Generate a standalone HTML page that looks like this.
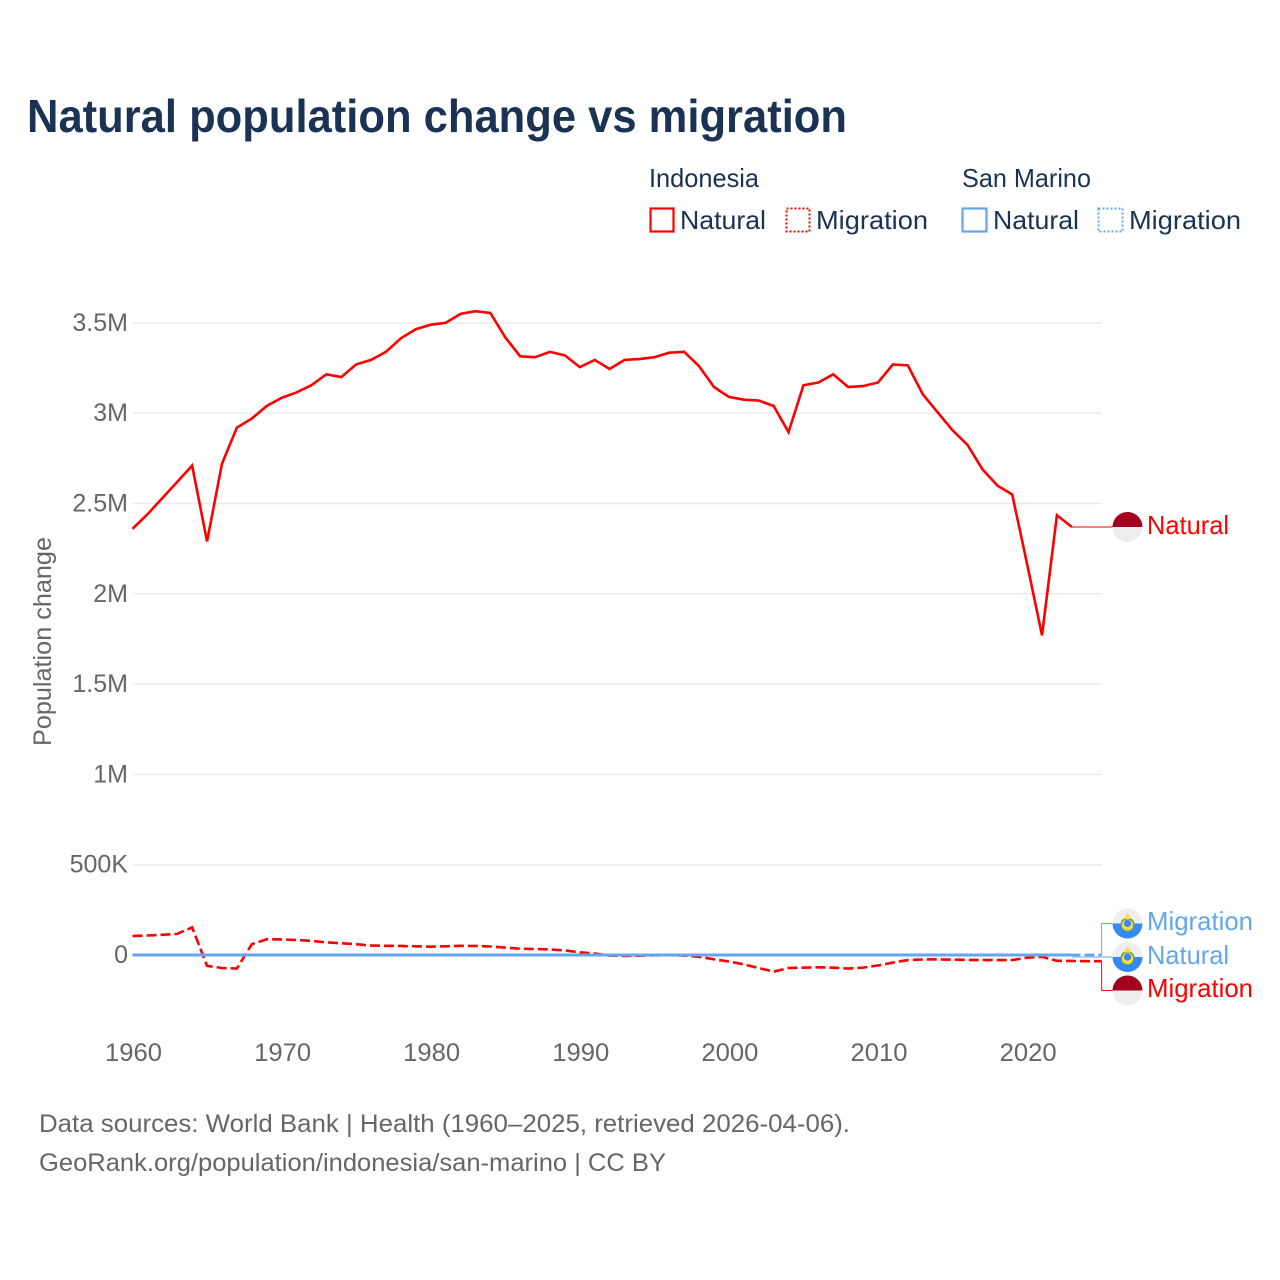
<!DOCTYPE html>
<html lang="en">
<head>
<meta charset="utf-8">
<title>Natural population change vs migration</title>
<style>
html,body{margin:0;padding:0;background:#fff;width:1280px;height:1280px;overflow:hidden}
svg{display:block}
text{font-family:"Liberation Sans",sans-serif}
</style>
</head>
<body>
<svg id="chart" width="1280" height="1280" viewBox="0 0 1280 1280" xmlns="http://www.w3.org/2000/svg">
<defs>
<clipPath id="flag-clip"><circle cx="0" cy="0" r="15"/></clipPath>
<g id="flag-id">
<g clip-path="url(#flag-clip)"><rect x="-15" y="-15" width="30" height="15" fill="#a2001d"/><rect x="-15" y="0" width="30" height="15" fill="#eeeeee"/></g>
</g>
<g id="flag-sm">
<g clip-path="url(#flag-clip)"><rect x="-15" y="-15" width="30" height="15" fill="#eeeeee"/><rect x="-15" y="0" width="30" height="15" fill="#338af3"/></g>
<circle cx="0" cy="1" r="7" fill="#6da544"/><circle cx="0" cy="1.6" r="5.6" fill="#ffda44"/><circle cx="0" cy="0" r="3.6" fill="#338af3"/>
<path d="M-3.2 -4.5 L-2.6 -8 L-1 -8.5 L0 -11 L1 -8.5 L2.6 -8 L3.2 -4.5 Z" fill="#ffda44"/>
</g>
</defs>

<text x="27" y="132" font-size="46" font-weight="700" fill="#1a3354" textLength="820" lengthAdjust="spacingAndGlyphs">Natural population change vs migration</text>

<g font-size="26" fill="#1a3354">
<text x="649" y="187" textLength="110" lengthAdjust="spacingAndGlyphs">Indonesia</text>
<text x="962" y="187" textLength="129" lengthAdjust="spacingAndGlyphs">San Marino</text>
<g>
<rect x="650.5" y="208.5" width="23" height="23" fill="none" stroke="#ff0000" stroke-width="2.2"/>
<text x="680" y="229" textLength="86" lengthAdjust="spacingAndGlyphs">Natural</text>
</g>
<g>
<rect x="786.5" y="208.5" width="23" height="23" fill="none" stroke="#ff0000" stroke-width="2" stroke-dasharray="2 2"/>
<text x="816" y="229" textLength="112" lengthAdjust="spacingAndGlyphs">Migration</text>
</g>
<g>
<rect x="962.5" y="208.5" width="24" height="23" fill="none" stroke="#62a6ee" stroke-width="2.2"/>
<text x="993" y="229" textLength="86" lengthAdjust="spacingAndGlyphs">Natural</text>
</g>
<g>
<rect x="1098.5" y="208.5" width="24" height="23" fill="none" stroke="#62a6ee" stroke-width="2" stroke-dasharray="2 2"/>
<text x="1129" y="229" textLength="112" lengthAdjust="spacingAndGlyphs">Migration</text>
</g>
</g>

<g id="grid"></g>
<g id="yticks"></g>
<g id="xticks"></g>
<text transform="translate(51 746) rotate(-90)" font-size="25" fill="#666666" textLength="209" lengthAdjust="spacingAndGlyphs">Population change</text>

<g id="leaders"></g>
<g id="series"></g>

<g font-size="26">
<use href="#flag-id" x="1127.5" y="527"/>
<use href="#flag-sm" x="1127.5" y="923.5"/>
<use href="#flag-sm" x="1127.5" y="957"/>
<use href="#flag-id" x="1127.5" y="990.5"/>
<text x="1147" y="534" fill="#ff0000" textLength="82" lengthAdjust="spacingAndGlyphs">Natural</text>
<text x="1147" y="930" fill="#62a6ee" textLength="106" lengthAdjust="spacingAndGlyphs">Migration</text>
<text x="1147" y="964" fill="#62a6ee" textLength="82" lengthAdjust="spacingAndGlyphs">Natural</text>
<text x="1147" y="997" fill="#ff0000" textLength="106" lengthAdjust="spacingAndGlyphs">Migration</text>
</g>

<g font-size="25" fill="#666666">
<text x="39" y="1132" textLength="811" lengthAdjust="spacingAndGlyphs">Data sources: World Bank | Health (1960–2025, retrieved 2026-04-06).</text>
<text x="39" y="1171" textLength="627" lengthAdjust="spacingAndGlyphs">GeoRank.org/population/indonesia/san-marino | CC BY</text>
</g>
</svg>

<script>
const startYear = 1960;
const xTickYears = [1960, 1970, 1980, 1990, 2000, 2010, 2020];
const yTickValues = [0, 500000, 1000000, 1500000, 2000000, 2500000, 3000000, 3500000];
const yTickLabels = ["0", "500K", "1M", "1.5M", "2M", "2.5M", "3M", "3.5M"];

const indonesiaNatural = [
2360000,2440000,2530000,2620000,2710000,2290000,2720000,2920000,2970000,3040000,
3085000,3115000,3155000,3215000,3200000,3270000,3295000,3340000,3415000,3465000,
3490000,3500000,3550000,3565000,3555000,3420000,3315000,3310000,3340000,3320000,
3255000,3295000,3245000,3295000,3300000,3310000,3335000,3340000,3260000,3145000,
3090000,3075000,3070000,3040000,2895000,3155000,3170000,3215000,3145000,3150000,
3170000,3270000,3265000,3105000,3005000,2905000,2825000,2690000,2600000,2550000,
2165000,1770000,2435000,2370000];

const indonesiaMigration = [
105000,108000,112000,117000,153000,-60000,-72000,-75000,60000,87000,
86000,83000,78000,70000,65000,60000,52000,51000,50000,48000,
46000,48000,51000,50000,47000,41000,35000,33000,31000,25000,
15000,8000,-3000,-5000,-4000,-2000,-1000,-3000,-10000,-24000,
-36000,-52000,-72000,-92000,-72000,-70000,-68000,-70000,-75000,-70000,
-58000,-42000,-28000,-25000,-24000,-26000,-27000,-28000,-28000,-28000,
-15000,-10000,-32000,-33000,-34000,-34000];

const sanMarinoNatural = [
200,200,200,200,200,200,200,200,200,200,
200,200,200,100,100,100,100,100,100,100,
100,100,100,100,100,100,100,100,100,100,
100,100,100,100,100,100,100,100,100,100,
100,100,100,100,100,100,100,100,100,100,
100,100,50,50,50,0,0,0,-50,-50,
-100,-100,-100,-100];

const sanMarinoMigration = [
300,300,300,300,300,300,300,300,300,300,
200,200,200,200,200,200,200,200,200,200,
200,200,200,200,200,200,200,200,200,200,
200,200,200,200,200,200,200,200,200,200,
200,300,300,300,300,300,300,300,300,300,
200,200,200,200,200,200,200,200,200,200,
200,200,200,200,200,200];

const SVG_NS = "http://www.w3.org/2000/svg";
function xScale(year) { return 132.5 + (year - 1960) * 14.91; }
function yScale(value) { return 955 - value * 180.6 / 1000000; }
function pathFrom(values) {
  return values.map(function (v, i) {
    return (i ? "L" : "M") + xScale(startYear + i).toFixed(2) + " " + yScale(v).toFixed(2);
  }).join(" ");
}
function make(tag, parent, attrs) {
  const el = document.createElementNS(SVG_NS, tag);
  Object.keys(attrs).forEach(function (k) { el.setAttribute(k, attrs[k]); });
  parent.appendChild(el);
  return el;
}

const grid = document.getElementById("grid");
const yticks = document.getElementById("yticks");
const xticks = document.getElementById("xticks");
const seriesGroup = document.getElementById("series");
const leaders = document.getElementById("leaders");

yTickValues.forEach(function (v, i) {
  if (v !== 0) {
    const line = make("line", grid, {x1: 133, x2: 1102, y1: yScale(v), y2: yScale(v), stroke: "#ebebeb", "stroke-width": 1.5});
    
    
  }
  const t = make("text", yticks, {x: 128, y: yScale(v) + 8, "text-anchor": "end", "font-size": 25, fill: "#666666"});
  t.textContent = yTickLabels[i];
  
  
});

xTickYears.forEach(function (yr) {
  const t = make("text", xticks, {x: xScale(yr) + 1, y: 1061, "text-anchor": "middle", "font-size": 25, fill: "#666666", textLength: 57, lengthAdjust: "spacingAndGlyphs"});
  t.textContent = String(yr);
  
  
});

const lastX = function (arr) { return xScale(startYear + arr.length - 1); };
const lastY = function (arr) { return yScale(arr[arr.length - 1]); };

const leaderNatId = make("path", leaders, {d: "M" + lastX(indonesiaNatural) + " " + lastY(indonesiaNatural) + " H1113", fill: "none", stroke: "#ff0000", "stroke-width": 1});



const leaderMigId = make("path", leaders, {d: "M" + lastX(indonesiaMigration) + " " + lastY(indonesiaMigration) + " V990.5 H1113", fill: "none", stroke: "#ff0000", "stroke-width": 1});



const leaderNatSm = make("path", leaders, {d: "M" + lastX(sanMarinoNatural) + " 957 H1113", fill: "none", stroke: "#62a6ee", "stroke-width": 1});



const leaderMigSm = make("path", leaders, {d: "M" + lastX(sanMarinoMigration) + " " + lastY(sanMarinoMigration) + " V923.5 H1113", fill: "none", stroke: "#62a6ee", "stroke-width": 1});



const lineMigId = make("path", seriesGroup, {d: pathFrom(indonesiaMigration), fill: "none", stroke: "#ff0000", "stroke-width": 2.6, "stroke-dasharray": "10 4"});



const lineNatId = make("path", seriesGroup, {d: pathFrom(indonesiaNatural), fill: "none", stroke: "#ff0000", "stroke-width": 2.6});



const lineMigSm = make("path", seriesGroup, {d: pathFrom(sanMarinoMigration), fill: "none", stroke: "#62a6ee", "stroke-width": 2.6, "stroke-dasharray": "10 4"});



const lineNatSm = make("path", seriesGroup, {d: pathFrom(sanMarinoNatural), fill: "none", stroke: "#62a6ee", "stroke-width": 3});


</script>
</body>
</html>
